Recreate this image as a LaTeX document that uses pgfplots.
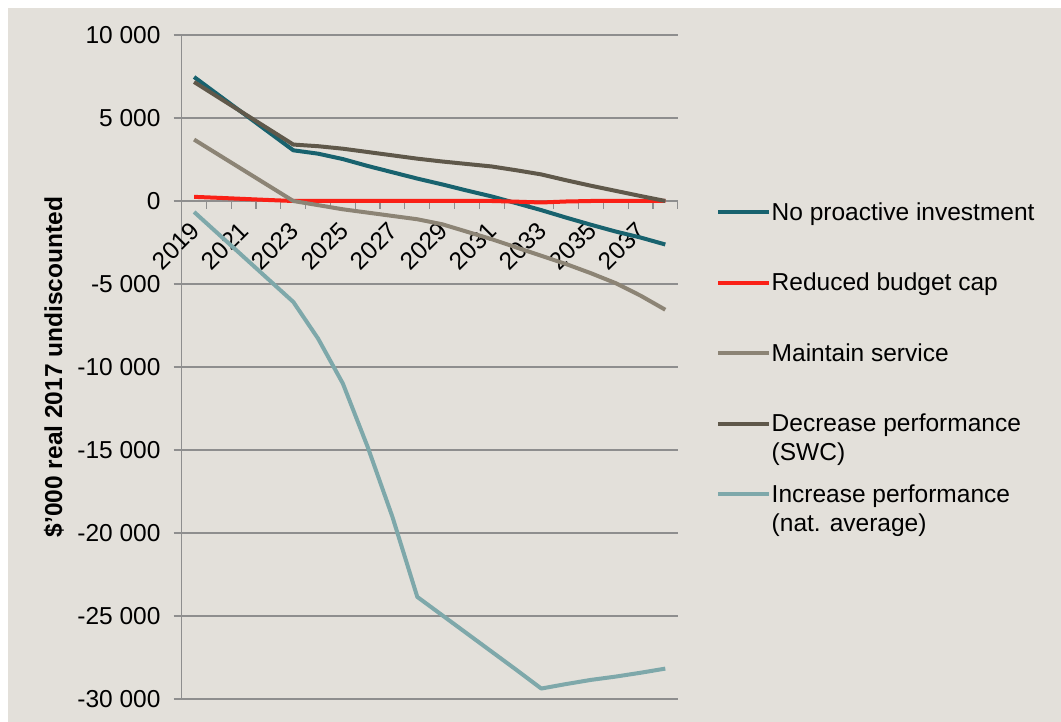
\documentclass[border=0pt]{standalone}
\usepackage{pgfplots}
\pgfplotsset{compat=1.18}
\usepackage{pgfplotstable}
\usepackage{fontspec}
\setmainfont{Liberation Sans}
\definecolor{bg}{RGB}{227,224,218}
\definecolor{gridc}{RGB}{142,142,142}
\definecolor{cNo}{RGB}{24,98,110}
\definecolor{cRed}{RGB}{250,32,22}
\definecolor{cMaint}{RGB}{140,132,117}
\definecolor{cDec}{RGB}{95,88,74}
\definecolor{cInc}{RGB}{126,168,170}
\pgfplotstableread{
x a b c d e
0 7470 250 3700 7170 -660
1 6366 190 2775 6227 -2015
2 5262 125 1850 5285 -3370
3 4158 60 925 4342 -4725
4 3054 0 0 3400 -6080
5 2850 0 -250 3300 -8290
6 2525 0 -500 3150 -11000
7 2110 0 -700 2950 -14820
8 1730 0 -900 2750 -19040
9 1350 0 -1100 2550 -23850
10 1000 0 -1400 2380 -24950
11 630 0 -1850 2230 -26050
12 275 0 -2300 2080 -27150
13 -135 -40 -2800 1850 -28250
14 -550 -90 -3300 1600 -29370
15 -1000 -30 -3800 1250 -29100
16 -1430 0 -4350 920 -28850
17 -1840 0 -4950 610 -28650
18 -2200 0 -5700 300 -28420
19 -2620 0 -6550 0 -28170
}\data
\begin{document}
\begin{tikzpicture}[font=\fontsize{24.5bp}{29bp}\selectfont]
\path (-181.7bp,-23bp) rectangle (879.3bp,699bp);
\fill[bg] (-173.7bp,-23bp) rectangle (879.3bp,691bp);
\begin{axis}[
  at={(0,0)}, anchor=south west,
  scale only axis, width=496bp, height=664bp,
  xmin=-0.5, xmax=19.5, ymin=-30000, ymax=10000,
  scaled y ticks=false,
  axis x line*=middle, axis y line*=left,
  hide obscured y ticks=false, hide obscured x ticks=false,
  axis line style={gridc, line width=1.2bp, -},
  xtick={-0.5,0.5,...,19.5}, xticklabels={},
  extra x ticks={0,2,...,18},
  extra x tick labels={2019,2021,2023,2025,2027,2029,2031,2033,2035,2037},
  extra x tick style={major tick length=0pt},
  xticklabel style={xshift=1bp, yshift=-25.5bp, rotate=45, anchor=east, inner sep=0pt},
  ytick={-30000,-25000,...,10000},
  yticklabels={-30 000,-25 000,-20 000,-15 000,-10 000,-5 000,0,5 000,10 000},
  yticklabel style={inner sep=0pt, xshift=-13bp},
  ymajorgrids, grid style={gridc, line width=1.2bp},
  tick style={gridc, line width=1.2bp},
  major tick length=8bp,
  tick align=outside,
  ylabel={\bfseries \$'000 real 2017 undiscounted},
  ylabel style={at={(axis description cs:-0.2575,0.5)}, anchor=center},
  legend style={at={(axis description cs:1.0773,0.7515)}, anchor=north west,
    draw=none, fill=none, inner sep=0pt, row sep=0pt,
    nodes={inner xsep=0.5bp, inner ysep=0pt, text height=20bp, text depth=50.5bp}},
  legend cell align=left,
  legend image code/.code={\draw[#1, line width=4bp] (0bp,23bp) -- (51bp,23bp);},
  every axis plot/.append style={line width=4bp, line join=round, no markers},
]
\addplot[cNo] table[x=x,y=a] {\data};
\addlegendentry{No proactive investment}
\addplot[cRed] table[x=x,y=b] {\data};
\addlegendentry{Reduced budget cap}
\addplot[cMaint] table[x=x,y=c] {\data};
\addlegendentry{Maintain service}
\addplot[cDec] table[x=x,y=d] {\data};
\addlegendentry{\begin{tabular}[t]{@{}l@{}}Decrease performance\\(SWC)\end{tabular}}
\addplot[cInc] table[x=x,y=e] {\data};
\addlegendentry{\begin{tabular}[t]{@{}l@{}}Increase performance\\(nat. average)\end{tabular}}
\end{axis}
\end{tikzpicture}
\end{document}
